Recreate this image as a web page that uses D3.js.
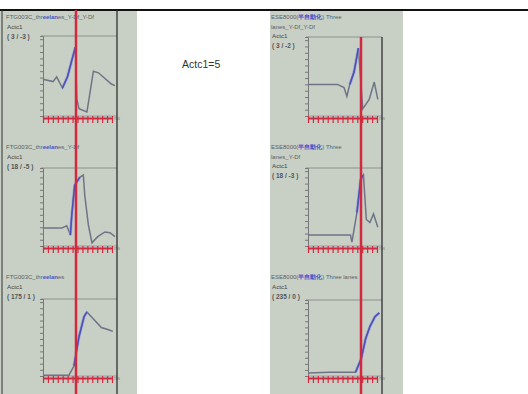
<!DOCTYPE html>
<html>
<head>
<meta charset="utf-8">
<script src="https://cdn.jsdelivr.net/npm/d3@7"></script>
<style>
  body { margin: 0; background: #fff; }
  svg { display: block; }
</style>
</head>
<body>
<div id="chart"></div>
<script>
// panel order: left column top->bottom, then right column top->bottom
const titles = [
  ['FTG003C_thr|eelan|es_Y-Df_Y-Df'],
  ['FTG003C_thr|eelan|es_Y-Df'],
  ['FTG003C_thr|eelan|es'],
  ['ESE8000(|半自動化|) Three', 'lanes_Y-Df_Y-Df'],
  ['ESE8000(|半自動化|) Three', 'lanes_Y-Df'],
  ['ESE8000(|半自動化|) Three lanes']
];
const actLabel = 'Actc1';
const ranges = ['( 3 / -3 )', '( 18 / -5 )', '( 175 / 1 )', '( 3 / -2 )', '( 18 / -3 )', '( 235 / 0 )'];
const centerNote = 'Actc1=5';
const unitLabel = 'ms';

// series values, x and y in percent of the plot box
const l1X = [0, 14, 19, 27, 34, 41, 45, 47, 50, 61, 70, 77, 95, 100];
const l1Y = [46, 43, 49, 35, 49, 73, 86, 21, 9, 5, 56, 54, 40, 38];
const l2X = [0, 26, 33, 38, 40, 44, 49, 51, 56, 58, 63, 68, 76, 86, 93, 100];
const l2Y = [23, 23, 26, 14, 40, 78, 85, 88, 91, 65, 27, 4, 12, 18, 17, 12];
const l3X = [0, 36, 43, 50, 57, 61, 73, 81, 91, 97];
const l3Y = [1, 1, 13, 51, 77, 83, 71, 63, 60, 58];
const r1X = [0, 41, 50, 54, 58, 64, 70, 76, 85, 92, 97];
const r1Y = [40, 40, 36, 25, 40, 56, 86, 9, 21, 43, 21];
const r2X = [0, 59, 61, 68, 73, 77, 81, 86, 91, 97];
const r2Y = [14, 14, 5, 43, 85, 91, 34, 30, 41, 24];
const r3X = [0, 30, 66, 74, 80, 86, 93, 99];
const r3Y = [4, 5, 5, 23, 49, 65, 78, 83];
// highlighted (blue) part of each series, as point index range
const blueParts = [[3, 6], [3, 7], [2, 5], [4, 6], [3, 5], [2, 7]];

const seriesX = [l1X, l2X, l3X, r1X, r2X, r3X];
const seriesY = [l1Y, l2Y, l3Y, r1Y, r2Y, r3Y];

const width = 528, height = 394;
const colLeft = [0, 265];
const rowTop = [0, 130, 260];
const plotTops = [36, 38, 39, 37, 38, 40];
const markerX = [76, 361];
const bg = '#c8cfc5';

const svg = d3.select('#chart').append('svg')
  .attr('width', width)
  .attr('height', height)
  .style('font-family', 'Liberation Sans, Arial, sans-serif');

// grey column backgrounds
svg.append('rect').attr('x', 0).attr('y', 11).attr('width', 137).attr('height', height - 11).attr('fill', bg);
svg.append('rect').attr('x', 270).attr('y', 11).attr('width', 133).attr('height', height - 11).attr('fill', bg);

svg.append('line')
  .attr('x1', 0).attr('x2', width).attr('y1', 10).attr('y2', 10)
  .attr('stroke', '#111').attr('stroke-width', 2);
svg.append('line')
  .attr('x1', 2).attr('x2', 2).attr('y1', 10).attr('y2', height)
  .attr('stroke', '#333').attr('stroke-width', 1);

svg.append('text')
  .attr('x', 182).attr('y', 68)
  .attr('font-size', 10.5).attr('fill', '#333')
  .text(centerNote);

const line = d3.line().x(d => d[0]).y(d => d[1]);

titles.forEach((t, i) => {
  const col = Math.floor(i / 3), row = i % 3;
  const ox = colLeft[col], oy = rowTop[row];
  const left = ox + 43, right = ox + 117;
  const top = oy + plotTops[i], bottom = oy + 116;
  const g = svg.append('g');

  // labels
  let ty = oy + 19;
  t.forEach(str => {
    const txt = g.append('text').attr('x', ox + 6).attr('y', ty)
      .attr('font-size', 6).attr('fill', '#5a5f66');
    str.split('|').forEach((part, k) => {
      txt.append('tspan').text(part)
        .attr('fill', k === 1 ? '#4b52c8' : '#5a5f66')
        .attr('font-weight', k === 1 ? 'bold' : 'normal');
    });
    ty += 9.5;
  });
  g.append('text').attr('x', ox + 7).attr('y', ty).attr('font-size', 6.2).attr('fill', '#444').text(actLabel);
  ty += 10;
  g.append('text').attr('x', ox + 7).attr('y', ty).attr('font-size', 6.5)
    .attr('font-weight', 'bold').attr('fill', '#555').text(ranges[i]);

  const x = d3.scaleLinear([0, 100], [left, right - 2]);
  const y = d3.scaleLinear([0, 100], [bottom, top]);

  // frame
  g.append('line').attr('x1', left - 2).attr('x2', right).attr('y1', top).attr('y2', top)
    .attr('stroke', '#8d928c').attr('stroke-width', 1);
  g.append('line').attr('x1', left).attr('x2', right).attr('y1', bottom).attr('y2', bottom)
    .attr('stroke', '#9a9fa8').attr('stroke-width', 1);

  const yAxis = d3.axisLeft(y).tickValues(d3.range(0, 101, 8)).tickSize(3).tickFormat('');
  g.append('g').attr('transform', `translate(${left},0)`).call(yAxis)
    .call(a => a.selectAll('line,path').attr('stroke', '#777').attr('stroke-width', 1));

  // data line
  const pts = seriesX[i].map((v, k) => [x(v), y(seriesY[i][k])]);
  g.append('path').attr('d', line(pts)).attr('fill', 'none')
    .attr('stroke', '#6e7486').attr('stroke-width', 1.5);
  const b = blueParts[i];
  const bluePts = pts.slice(b[0], b[1] + 1);
  g.append('path').attr('d', line(bluePts)).attr('fill', 'none')
    .attr('stroke', '#8e92e0').attr('stroke-width', 3).attr('opacity', 0.6);
  g.append('path').attr('d', line(bluePts)).attr('fill', 'none')
    .attr('stroke', '#4a50b8').attr('stroke-width', 1.5);

  // red bottom axis
  const xs = d3.scaleLinear([0, 14], [left, right - 5]);
  const xAxis = d3.axisBottom(xs).tickValues(d3.range(0, 15)).tickSize(5).tickSizeOuter(0).tickFormat('');
  g.append('g').attr('transform', `translate(0,${oy + 118})`).call(xAxis)
    .call(a => a.select('path').attr('stroke', '#d3293f').attr('stroke-width', 2))
    .call(a => a.selectAll('line').attr('stroke', '#d3293f').attr('stroke-width', 1.2).attr('y1', -2));
  g.append('text').attr('x', right - 3).attr('y', oy + 120)
    .attr('font-size', 4.5).attr('fill', '#888').text(unitLabel);
});

// black vertical separators and red marker lines
[0, 1].forEach(col => {
  const startY = col === 0 ? 10 : 37;
  svg.append('line')
    .attr('x1', colLeft[col] + 117).attr('x2', colLeft[col] + 117)
    .attr('y1', startY).attr('y2', height)
    .attr('stroke', '#222').attr('stroke-width', 1.2);
  svg.append('line')
    .attr('x1', markerX[col]).attr('x2', markerX[col])
    .attr('y1', startY).attr('y2', height)
    .attr('stroke', '#d3293f').attr('stroke-width', 2.5);
});
</script>
</body>
</html>
